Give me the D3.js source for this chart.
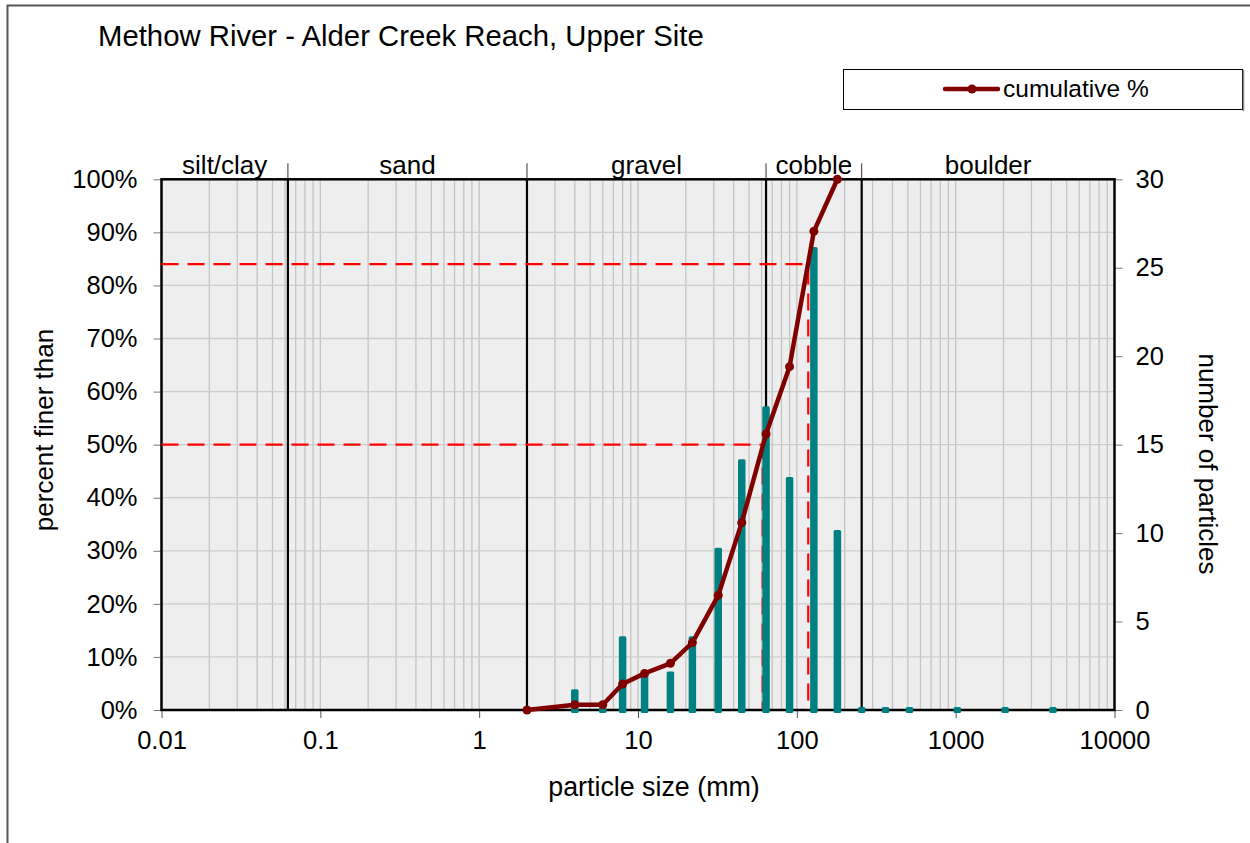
<!DOCTYPE html>
<html>
<head>
<meta charset="utf-8">
<script src="https://cdn.jsdelivr.net/npm/d3@7"></script>
<style>
  body { margin: 0; background: #fff; }
  text { font-family: "Liberation Sans", Arial, sans-serif; fill: #000; }
</style>
</head>
<body>
<script>
'use strict';

// particle size classes (mm) and pebble counts
const sizes = [2, 4, 6, 8, 11, 16, 22, 32, 45, 64, 90, 128, 180, 256, 362, 512, 1024, 2048, 4096];
const counts = [0, 1, 0, 4, 2, 2, 4, 9, 14, 17, 13, 26, 10, 0, 0, 0, 0, 0, 0];
// cumulative percent finer
const cumSizes = [2, 4, 6, 8, 11, 16, 22, 32, 45, 64, 90, 128, 180];
const cumPct = [0, 0.98, 0.98, 4.9, 6.9, 8.8, 12.7, 21.6, 35.3, 52.0, 64.7, 90.2, 100];
// D50 / D84
const dLines = [{ p: 50, d: 61 }, { p: 84, d: 118 }];
// sediment classes
const classNames = ['silt/clay', 'sand', 'gravel', 'cobble', 'boulder'];
const classBounds = [0.01, 0.0625, 2, 64, 256, 10000];
const xTicks = [0.01, 0.1, 1, 10, 100, 1000, 10000];
const xTickLabels = ['0.01', '0.1', '1', '10', '100', '1000', '10000'];

const W = 1250, H = 843;
const L = 161.5, R = 1114.5, T = 179.3, B = 710;

const svg = d3.select('body').append('svg')
  .attr('width', W).attr('height', H);

// outer frame
svg.append('path')
  .attr('d', `M7.5,${H} V5.5 H${W}`)
  .attr('fill', 'none').attr('stroke', '#555').attr('stroke-width', 2);

const x = d3.scaleLog().domain([0.01, 10000]).range([L, R]);
const y = d3.scaleLinear().domain([0, 100]).range([B, T]);
const y2 = d3.scaleLinear().domain([0, 30]).range([B, T]);

// plot background
svg.append('rect')
  .attr('x', L).attr('y', T).attr('width', R - L).attr('height', B - T)
  .attr('fill', '#eeeeee');

// vertical grid (every 1..9 x decade)
let minor = [];
for (let e = -2; e < 4; e++) {
  for (let m = 1; m < 10; m++) minor.push(m * Math.pow(10, e));
}
svg.append('g').selectAll('line').data(minor.filter(v => v > 0.01)).enter()
  .append('line')
  .attr('x1', d => x(d)).attr('x2', d => x(d))
  .attr('y1', T).attr('y2', B)
  .attr('stroke', '#c4c4c4').attr('stroke-width', 1.3);

// horizontal grid
svg.append('g').selectAll('line').data(d3.range(10, 100, 10)).enter()
  .append('line')
  .attr('x1', L).attr('x2', R)
  .attr('y1', d => y(d)).attr('y2', d => y(d))
  .attr('stroke', '#cccccc').attr('stroke-width', 1.3);

// left axis
const yAxis = d3.axisLeft(y).tickValues(d3.range(0, 101, 10))
  .tickFormat(d => d + '%').tickSize(8).tickPadding(16);
const gy = svg.append('g').attr('transform', `translate(${L},0)`).call(yAxis);
gy.select('.domain').remove();
gy.selectAll('line').attr('stroke', '#777');
gy.selectAll('text').style('font-size', '25.5px');

// right axis
const y2Axis = d3.axisRight(y2).tickValues(d3.range(0, 31, 5)).tickSize(8).tickPadding(13);
const gy2 = svg.append('g').attr('transform', `translate(${R},0)`).call(y2Axis);
gy2.select('.domain').remove();
gy2.selectAll('line').attr('stroke', '#777');
gy2.selectAll('text').style('font-size', '25.5px');

// bottom axis
const xAxis = d3.axisBottom(x).tickValues(xTicks)
  .tickFormat((d, i) => xTickLabels[i]).tickSize(8).tickPadding(13);
const gx = svg.append('g').attr('transform', `translate(0,${B})`).call(xAxis);
gx.select('.domain').remove();
gx.selectAll('line').attr('stroke', '#555');
gx.selectAll('text').style('font-size', '25.5px');

// plot border
svg.append('rect')
  .attr('x', L).attr('y', T).attr('width', R - L).attr('height', B - T)
  .attr('fill', 'none').attr('stroke', '#000').attr('stroke-width', 2.5);

// class boundaries
svg.append('g').selectAll('line').data(classBounds.slice(1, -1)).enter()
  .append('line')
  .attr('x1', d => x(d)).attr('x2', d => x(d))
  .attr('y1', T).attr('y2', B)
  .attr('stroke', '#000').attr('stroke-width', 2.2);
svg.append('g').selectAll('line').data(classBounds.slice(1, -1)).enter()
  .append('line')
  .attr('x1', d => x(d)).attr('x2', d => x(d))
  .attr('y1', T - 16).attr('y2', T)
  .attr('stroke', '#333').attr('stroke-width', 1);

svg.append('g').selectAll('text').data(classNames).enter()
  .append('text')
  .attr('x', (d, i) => (x(classBounds[i]) + x(classBounds[i + 1])) / 2)
  .attr('y', T - 5)
  .attr('text-anchor', 'middle')
  .style('font-size', '26px')
  .text(d => d);

// D50 / D84 dashed lines
const dg = svg.append('g');
dLines.forEach(dl => {
  dg.append('path')
    .attr('d', `M${L},${y(dl.p)} H${x(dl.d)} V${B}`)
    .attr('fill', 'none')
    .attr('stroke', '#ff0000').attr('stroke-width', 2.2)
    .attr('stroke-dasharray', '17,9');
});

// count bars (thick columns on right axis)
const bw = 7.5;
svg.append('g').selectAll('rect').data(sizes).enter()
  .append('rect')
  .attr('x', d => x(d) - bw / 2)
  .attr('y', (d, i) => y2(counts[i]) - 3)
  .attr('width', bw)
  .attr('height', (d, i) => B - y2(counts[i]) + 6)
  .attr('rx', 1.5)
  .attr('fill', '#008080');

// cumulative line
const line = d3.line().x((d, i) => x(cumSizes[i])).y(d => y(d));
svg.append('path')
  .datum(cumPct)
  .attr('d', line)
  .attr('fill', 'none')
  .attr('stroke', '#800000').attr('stroke-width', 4.5)
  .attr('stroke-linejoin', 'round');
svg.append('g').selectAll('circle').data(cumPct).enter()
  .append('circle')
  .attr('cx', (d, i) => x(cumSizes[i]))
  .attr('cy', d => y(d))
  .attr('r', 4.5)
  .attr('fill', '#800000');

// axis titles
svg.append('text')
  .attr('x', 654).attr('y', 796)
  .attr('text-anchor', 'middle')
  .style('font-size', '26.8px')
  .text('particle size (mm)');

svg.append('text')
  .attr('transform', `translate(53,430) rotate(-90)`)
  .attr('text-anchor', 'middle')
  .style('font-size', '26px')
  .text('percent finer than');

svg.append('text')
  .attr('transform', `translate(1199,464) rotate(90)`)
  .attr('text-anchor', 'middle')
  .style('font-size', '26px')
  .text('number of particles');

// title
svg.append('text')
  .attr('x', 98).attr('y', 46)
  .style('font-size', '29.3px')
  .text('Methow River - Alder Creek Reach, Upper Site');

// legend
svg.append('rect')
  .attr('x', 843.5).attr('y', 69.5).attr('width', 399).attr('height', 40)
  .attr('fill', '#fff').attr('stroke', '#000').attr('stroke-width', 1);
svg.append('line')
  .attr('x1', 1243.5).attr('x2', 1243.5).attr('y1', 70).attr('y2', 111)
  .attr('stroke', '#888').attr('stroke-width', 1.5);
svg.append('line')
  .attr('x1', 945).attr('x2', 998).attr('y1', 89).attr('y2', 89)
  .attr('stroke', '#800000').attr('stroke-width', 4.5).attr('stroke-linecap', 'round');
svg.append('circle')
  .attr('cx', 972).attr('cy', 89).attr('r', 4.5).attr('fill', '#800000');
svg.append('text')
  .attr('x', 1003).attr('y', 97)
  .style('font-size', '24.5px')
  .text('cumulative %');
</script>
</body>
</html>
